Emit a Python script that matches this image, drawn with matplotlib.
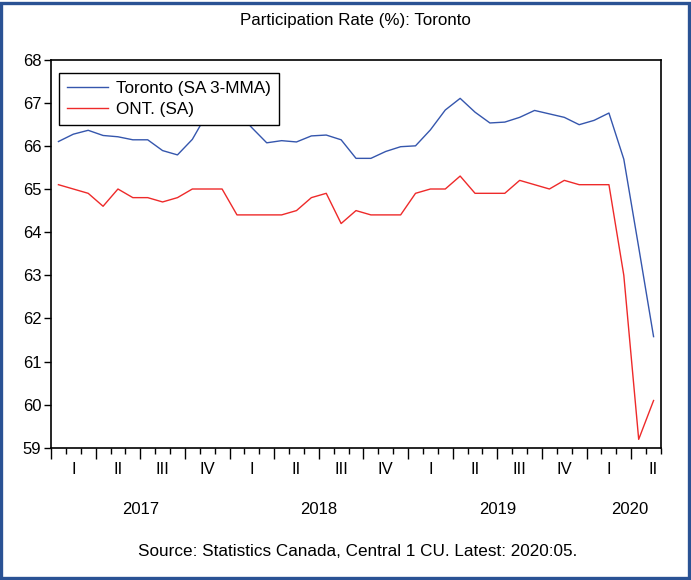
import matplotlib.pyplot as plt
import numpy as np
from matplotlib.patches import Rectangle
from matplotlib.ticker import MultipleLocator

plt.rcParams['font.family'] = ['Liberation Sans', 'DejaVu Sans']

# monthly, Jan 2017 .. May 2020
toronto = [66.10, 66.27, 66.36, 66.24, 66.21, 66.14, 66.14, 65.89, 65.79, 66.15,
           66.75, 66.80, 66.80, 66.42, 66.07, 66.12, 66.09, 66.23, 66.25, 66.14,
           65.71, 65.71, 65.87, 65.98, 66.00, 66.37, 66.83, 67.10, 66.78, 66.53,
           66.55, 66.66, 66.82, 66.74, 66.66, 66.49, 66.59, 66.76, 65.69, 63.65,
           61.58]
ontario = [65.1, 65.0, 64.9, 64.6, 65.0, 64.8, 64.8, 64.7, 64.8, 65.0,
           65.0, 65.0, 64.4, 64.4, 64.4, 64.4, 64.5, 64.8, 64.9, 64.2,
           64.5, 64.4, 64.4, 64.4, 64.9, 65.0, 65.0, 65.3, 64.9, 64.9,
           64.9, 65.2, 65.1, 65.0, 65.2, 65.1, 65.1, 65.1, 63.0, 59.2,
           60.1]
quarters = ['I', 'II', 'III', 'IV']
years = ['2017', '2018', '2019', '2020']

n = len(toronto)
x = np.arange(n) + 0.5

fig = plt.figure(figsize=(6.91, 5.80), dpi=100)
ax = fig.add_axes([0.0738, 0.2276, 0.8828, 0.6698])

ax.plot(x, toronto, color='#3556ad', lw=1.0, label='Toronto (SA 3-MMA)')
ax.plot(x, ontario, color='#ee2a2a', lw=1.0, label='ONT. (SA)')

ax.set_xlim(0, n)
ax.set_ylim(59, 68)
ax.yaxis.set_major_locator(MultipleLocator(1))
ax.tick_params(axis='y', direction='out', length=5, width=1, labelsize=12, pad=2)

# month ticks (minor) and quarter ticks (major), labels drawn separately
ax.set_xticks(np.arange(0, n + 1, 3))
ax.set_xticks(np.arange(0, n + 1), minor=True)
ax.set_xticklabels([])
ax.tick_params(axis='x', which='major', direction='out', length=8, width=1)
ax.tick_params(axis='x', which='minor', direction='out', length=4.5, width=1)
for s in ax.spines.values():
    s.set_linewidth(1.2)

trans = ax.get_xaxis_transform()
for q in range(int(np.ceil(n / 3))):
    ax.text(q * 3 + 1.5, -0.055, quarters[q % 4], transform=trans,
            ha='center', va='center', fontsize=12)
year_pos = [6, 18, 30, 38.9]
for xp, yr in zip(year_pos, years):
    ax.text(xp, -0.158, yr, transform=trans, ha='center', va='center', fontsize=12)

leg = ax.legend(loc='upper left', bbox_to_anchor=(0.013, 0.966), fontsize=12.3,
                frameon=True, fancybox=False, edgecolor='black', framealpha=1,
                handlelength=2.4, handletextpad=0.45, borderpad=0.48,
                labelspacing=0.36, borderaxespad=0)
leg.get_frame().set_linewidth(1.0)

fig.text(0.514, 0.965, 'Participation Rate (%): Toronto', ha='center', va='center', fontsize=12.2)
fig.text(0.518, 0.05, 'Source: Statistics Canada, Central 1 CU. Latest: 2020:05.',
         ha='center', va='center', fontsize=12.3)

fig.patches.append(Rectangle((0.002, 0.003), 0.995, 0.992, transform=fig.transFigure,
                             fill=False, edgecolor='#2a5294', lw=2.4))

fig.savefig('out.png', dpi=100)
